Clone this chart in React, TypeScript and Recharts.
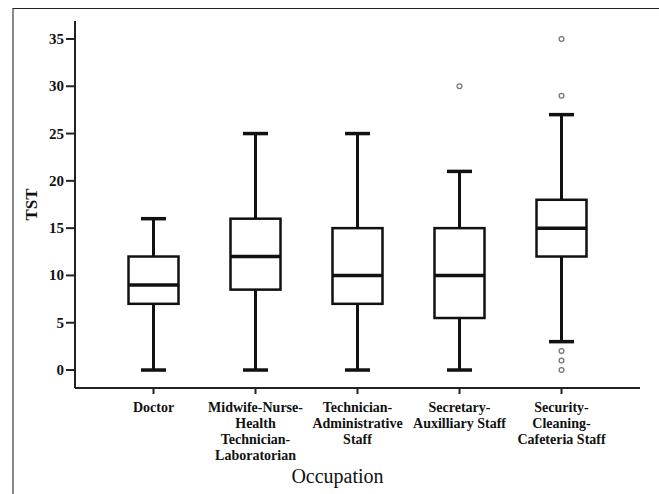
import React from "react";
import { ComposedChart, Bar, XAxis, YAxis, Label } from "recharts";

// Occupation groups (line breaks mark how the axis labels wrap)
const occupations = [
  "Doctor",
  "Midwife-Nurse-\nHealth\nTechnician-\nLaboratorian",
  "Technician-\nAdministrative\nStaff",
  "Secretary-\nAuxilliary Staff",
  "Security-\nCleaning-\nCafeteria Staff",
];

// Five-number summaries of TST per occupation
const whiskerLow = [0, 0, 0, 0, 3];
const quartile1 = [7, 8.5, 7, 5.5, 12];
const medians = [9, 12, 10, 10, 15];
const quartile3 = [12, 16, 15, 15, 18];
const whiskerHigh = [16, 25, 25, 21, 27];
const outliers: number[][] = [[], [], [], [30], [35, 29, 2, 1, 0]];

const yTicks = [0, 5, 10, 15, 20, 25, 30, 35];

const rows = occupations.map((name, i) => ({
  name,
  lo: whiskerLow[i],
  q1: quartile1[i],
  med: medians[i],
  q3: quartile3[i],
  hi: whiskerHigh[i],
  out: outliers[i],
}));

const SERIF = "'Liberation Serif', 'Times New Roman', serif";
const INK = "#111";

// The bar spans 0..hi on the value axis; its geometry gives the scale used
// to place the box, median, whiskers and outliers.
const BoxShape = (props: any) => {
  const { x, y, width, height, payload } = props;
  const ppu = height / payload.hi;
  const toY = (v: number) => y + (payload.hi - v) * ppu;
  const cx = x + width / 2;
  const capHalf = width / 4;
  const yQ1 = toY(payload.q1);
  const yQ3 = toY(payload.q3);
  return (
    <g>
      <line x1={cx} x2={cx} y1={toY(payload.hi)} y2={yQ3} stroke={INK} strokeWidth={3} />
      <line x1={cx} x2={cx} y1={yQ1} y2={toY(payload.lo)} stroke={INK} strokeWidth={3} />
      <line x1={cx - capHalf} x2={cx + capHalf} y1={toY(payload.hi)} y2={toY(payload.hi)} stroke={INK} strokeWidth={3.5} />
      <line x1={cx - capHalf} x2={cx + capHalf} y1={toY(payload.lo)} y2={toY(payload.lo)} stroke={INK} strokeWidth={3.5} />
      <rect x={x} y={yQ3} width={width} height={yQ1 - yQ3} fill="#fff" stroke={INK} strokeWidth={2.5} />
      <line x1={x} x2={x + width} y1={toY(payload.med)} y2={toY(payload.med)} stroke={INK} strokeWidth={3.5} />
      {payload.out.map((v: number, k: number) => (
        <circle key={k} cx={cx} cy={toY(v)} r={2.4} fill="#fff" stroke="#777" strokeWidth={1.3} />
      ))}
    </g>
  );
};

const OccupationTick = (props: any) => {
  const { x, y, payload } = props;
  const lines = String(payload.value).split("\n");
  return (
    <text
      x={x}
      y={y}
      textAnchor="middle"
      style={{ fontFamily: SERIF, fontWeight: 700, fontSize: 14 }}
      fill={INK}
    >
      {lines.map((line, i) => (
        <tspan key={i} x={x} dy={16}>
          {line}
        </tspan>
      ))}
    </text>
  );
};

const ValueTick = (props: any) => {
  const { x, y, payload } = props;
  return (
    <text
      x={x}
      y={y}
      textAnchor="end"
      dominantBaseline="central"
      style={{ fontFamily: SERIF, fontWeight: 700, fontSize: 15 }}
      fill={INK}
    >
      {payload.value}
    </text>
  );
};

const YTitle = (props: any) => {
  const { viewBox } = props;
  const cx = viewBox.x + 31;
  const cy = viewBox.y + viewBox.height / 2;
  return (
    <text
      x={cx}
      y={cy}
      transform={`rotate(-90, ${cx}, ${cy})`}
      textAnchor="middle"
      dominantBaseline="central"
      style={{ fontFamily: SERIF, fontWeight: 700, fontSize: 17 }}
      fill={INK}
    >
      TST
    </text>
  );
};

const XTitle = (props: any) => {
  const { viewBox } = props;
  return (
    <text
      x={viewBox.x + viewBox.width / 2 - 20}
      y={viewBox.y + 95}
      textAnchor="middle"
      style={{ fontFamily: SERIF, fontSize: 20 }}
      fill={INK}
    >
      Occupation
    </text>
  );
};

export default function App() {
  return (
    <div style={{ position: "absolute", left: 0, top: 0, width: 659, height: 494, background: "#fff" }}>
      <div
        style={{
          position: "absolute",
          left: 12,
          top: 8,
          width: 645,
          height: 486,
          borderTop: "1.5px solid #222",
          borderLeft: "2px solid #8a8a8a",
          borderRight: "1px solid #d0d0d0",
        }}
      />
      <div style={{ position: "absolute", left: 0, top: 0 }}>
        <ComposedChart
          width={659}
          height={494}
          data={rows}
          margin={{ top: 21, right: 19, bottom: 0, left: 0 }}
        >
          <XAxis
            dataKey="name"
            type="category"
            interval={0}
            padding={{ left: 27.5, right: 27.5 }}
            height={106}
            tickSize={6}
            axisLine={{ stroke: "#222", strokeWidth: 2 }}
            tickLine={{ stroke: "#222", strokeWidth: 2 }}
            tick={<OccupationTick />}
          >
            <Label content={<XTitle />} />
          </XAxis>
          <YAxis
            type="number"
            domain={[-1.9, 36.9]}
            ticks={yTicks}
            width={75}
            tickSize={9}
            axisLine={{ stroke: "#222", strokeWidth: 2 }}
            tickLine={{ stroke: "#222", strokeWidth: 2 }}
            tick={<ValueTick />}
          >
            <Label content={<YTitle />} />
          </YAxis>
          <Bar dataKey="hi" barSize={50} shape={<BoxShape />} isAnimationActive={false} />
        </ComposedChart>
      </div>
    </div>
  );
}
